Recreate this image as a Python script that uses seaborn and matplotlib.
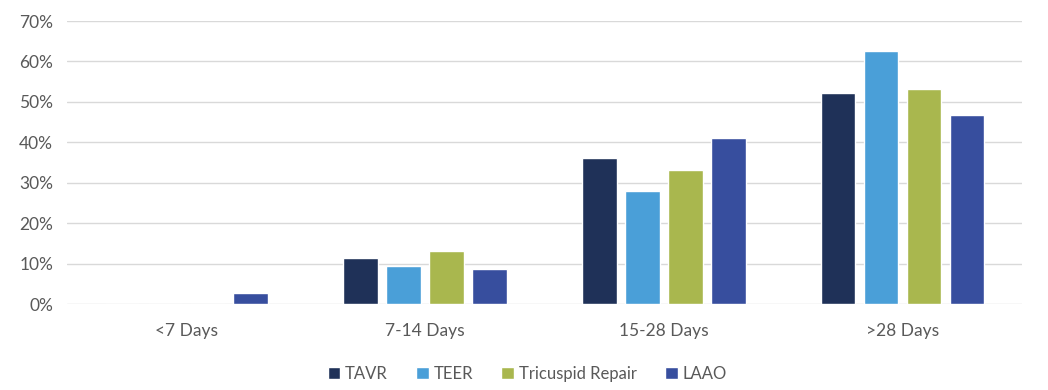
import pandas as pd
import seaborn as sns
import matplotlib.pyplot as plt
from matplotlib.ticker import PercentFormatter

categories = ['<7 Days', '7-14 Days', '15-28 Days', '>28 Days']
procedures = ['TAVR', 'TEER', 'Tricuspid Repair', 'LAAO']
tavr = [0.0, 11.3, 36.1, 52.3]
teer = [0.0, 9.4, 28.0, 62.5]
tricuspid = [0.0, 13.1, 33.1, 53.3]
laao = [2.7, 8.7, 41.0, 46.8]
colors = ['#1F3158', '#4A9FD8', '#A9B74E', '#374E9E']

rows = []
for proc, vals in zip(procedures, [tavr, teer, tricuspid, laao]):
    for cat, v in zip(categories, vals):
        rows.append({'period': cat, 'procedure': proc, 'pct': v})
df = pd.DataFrame(rows)

sns.set_style('white')
plt.rcParams['font.family'] = ['Lato', 'DejaVu Sans']

fig = plt.figure(figsize=(10.48, 3.90), dpi=100)
ax = fig.add_axes([0.064, 0.2205, 0.911, 0.7255])

sns.barplot(data=df, x='period', y='pct', hue='procedure', order=categories,
            hue_order=procedures, palette=colors, width=0.72, gap=0.19,
            saturation=1, ax=ax, legend=True)

ax.set_ylim(0, 70)
ax.set_xlim(-0.5, 3.5)
ax.set_yticks(range(0, 71, 10))
ax.yaxis.set_major_formatter(PercentFormatter(decimals=0))
ax.grid(axis='y', color='#d9d9d9', linewidth=1)
ax.set_axisbelow(True)
for s in ax.spines.values():
    s.set_visible(False)
ax.tick_params(axis='both', length=0, labelsize=12.5, labelcolor='#595959')
ax.tick_params(axis='x', pad=14)
ax.tick_params(axis='y', pad=10)
ax.set_xlabel('')
ax.set_ylabel('')

ax.legend(loc='upper center', bbox_to_anchor=(0.482, -0.165), ncol=4, frameon=False,
          fontsize=12, handlelength=0.75, handleheight=0.75, handletextpad=0.3,
          columnspacing=1.7, labelcolor='#595959')

fig.savefig('out.png', dpi=100)
